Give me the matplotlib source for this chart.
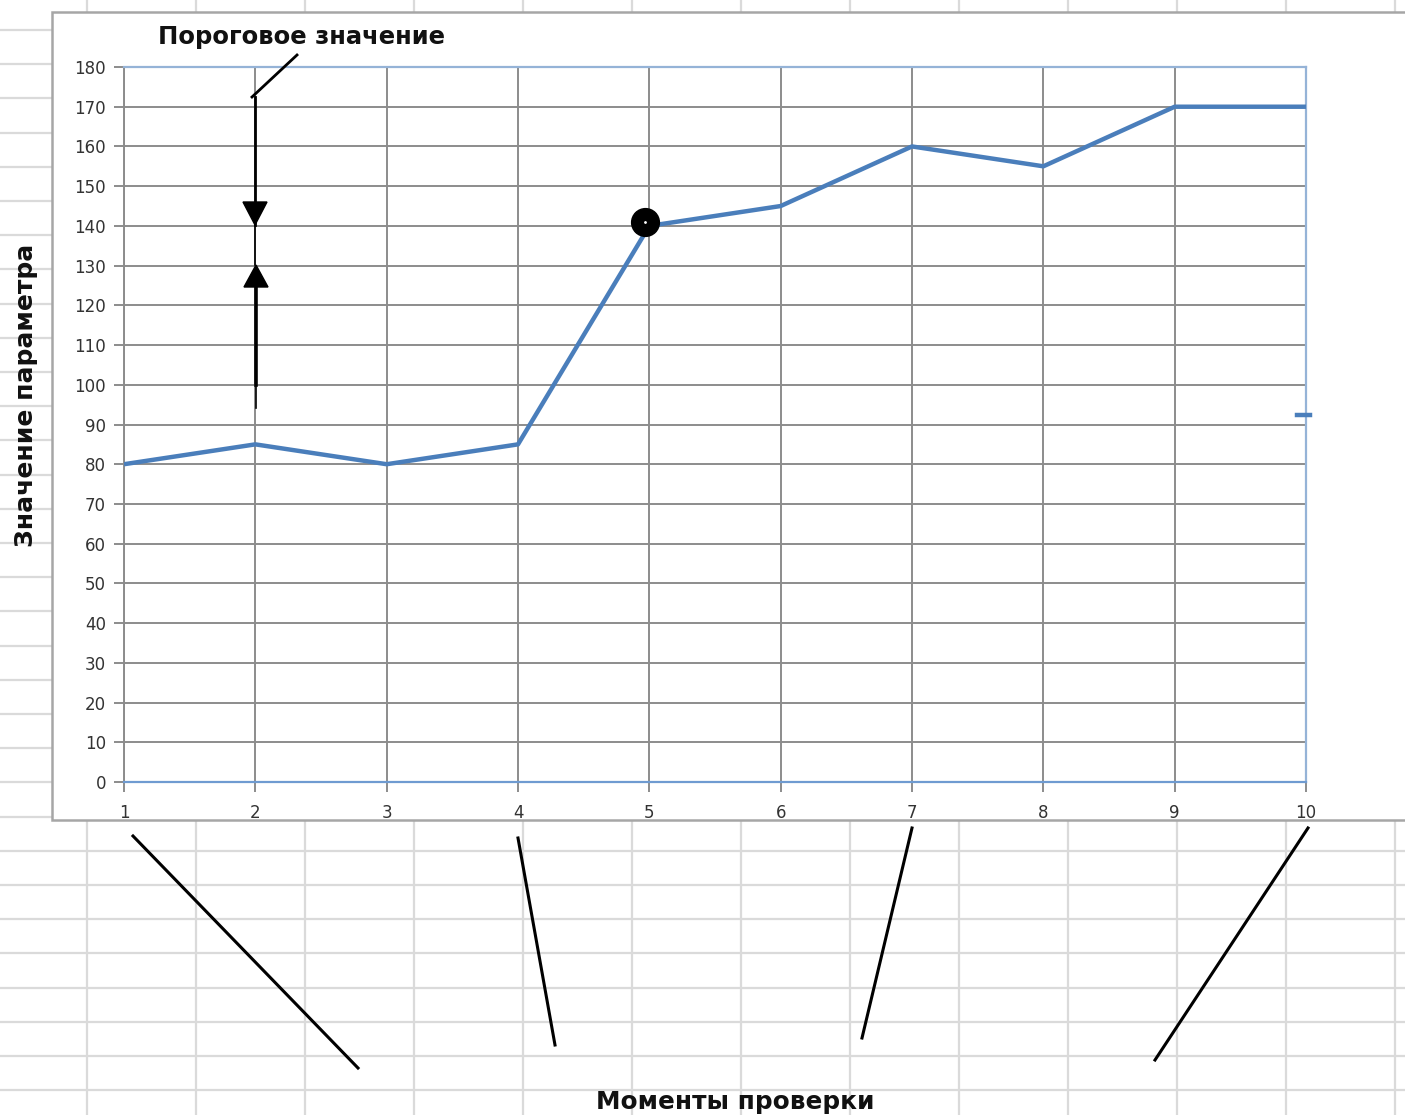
import matplotlib
matplotlib.use("Agg")
import matplotlib.pyplot as plt
from matplotlib.patches import Rectangle, Polygon

# data
moments = [1, 2, 3, 4, 5, 6, 7, 8, 9, 10]
values = [80, 85, 80, 85, 140, 145, 160, 155, 170, 170]
y_ticks = list(range(0, 181, 10))
highlight_x, highlight_y = 4.97, 141
title_text = "Пороговое значение"
x_label = "Моменты проверки"
y_label = "Значение параметра"

W, H = 1405, 1115
fig = plt.figure(figsize=(W / 100, H / 100), dpi=100)

# spreadsheet background (pixel coords)
bg = fig.add_axes([0, 0, 1, 1], zorder=0)
bg.set_xlim(0, W)
bg.set_ylim(H, 0)
bg.axis("off")
for k in range(33):
    bg.axhline(30 + 34.2 * k, color="#dadada", lw=1.6, zorder=1)
for k in range(13):
    bg.axvline(87 + 109.0 * k, color="#dadada", lw=1.6, zorder=1)
bg.add_patch(Rectangle((52, 12), 1400, 808, facecolor="white",
                       edgecolor="#a6a6a6", lw=1.8, zorder=3))

# chart
ax = fig.add_axes([124 / W, (H - 782) / H, (1306 - 124) / W, (782 - 67) / H], zorder=1)
ax.patch.set_alpha(0)
ax.plot(moments, values, color="#4a7ebb", lw=3.2, solid_capstyle="butt", zorder=3)
ax.plot([highlight_x], [highlight_y], "o", color="black", ms=20, zorder=4)
ax.plot([highlight_x], [highlight_y], "o", color="white", ms=1, zorder=5)
ax.plot([9.93, 10.03], [92.5, 92.5], color="#4a7ebb", lw=3.2, clip_on=False, zorder=3)

ax.set_xlim(1, 10)
ax.set_ylim(0, 180)
ax.set_xticks(moments)
ax.set_yticks(y_ticks)
ax.grid(True, color="#8c8c8c", lw=1.4)
ax.set_axisbelow(True)
ax.tick_params(axis="both", colors="#8c8c8c", labelcolor="#333333",
               labelsize=12, length=7, width=1.4)
ax.tick_params(axis="y", pad=6)
ax.tick_params(axis="x", pad=9)
for s in ["top", "right"]:
    ax.spines[s].set_color("#95b3d7")
    ax.spines[s].set_linewidth(1.6)
ax.spines["bottom"].set_color("#6f9bd1")
ax.spines["bottom"].set_linewidth(1.6)
ax.spines["left"].set_color("#8c8c8c")
ax.spines["left"].set_linewidth(1.4)

fig.text(26 / W, 1 - 395 / H, y_label, rotation=90, ha="center", va="center",
         fontsize=18, fontweight="bold", color="#111111")

# annotations (pixel coords)
ov = fig.add_axes([0, 0, 1, 1], zorder=2)
ov.set_xlim(0, W)
ov.set_ylim(H, 0)
ov.axis("off")
ov.patch.set_alpha(0)
ov.text(301, 37, title_text, ha="center", va="center", fontsize=17.5,
        fontweight="bold", color="#111111")
ov.plot([252, 297], [97, 55], color="black", lw=2)
ov.plot([255, 255], [97, 225], color="black", lw=2)
ov.plot([255, 255], [225, 265], color="black", lw=1.2)
ov.plot([256, 256], [285, 385], color="black", lw=2.6)
ov.plot([256, 256], [385, 408], color="black", lw=1.2)
ov.add_patch(Polygon([(243, 202), (267, 202), (255, 225)], color="black"))
ov.add_patch(Polygon([(244, 287), (268, 287), (256, 265)], color="black"))
for (x0, y0), (x1, y1) in [((133, 836), (358, 1068)), ((518, 838), (555, 1045)),
                           ((912, 828), (862, 1038)), ((1308, 828), (1155, 1060))]:
    ov.plot([x0, x1], [y0, y1], color="black", lw=2.2)
ov.text(735, 1102, x_label, ha="center", va="center", fontsize=17.8,
        fontweight="bold", color="#111111")

fig.savefig("out.png", dpi=100)
